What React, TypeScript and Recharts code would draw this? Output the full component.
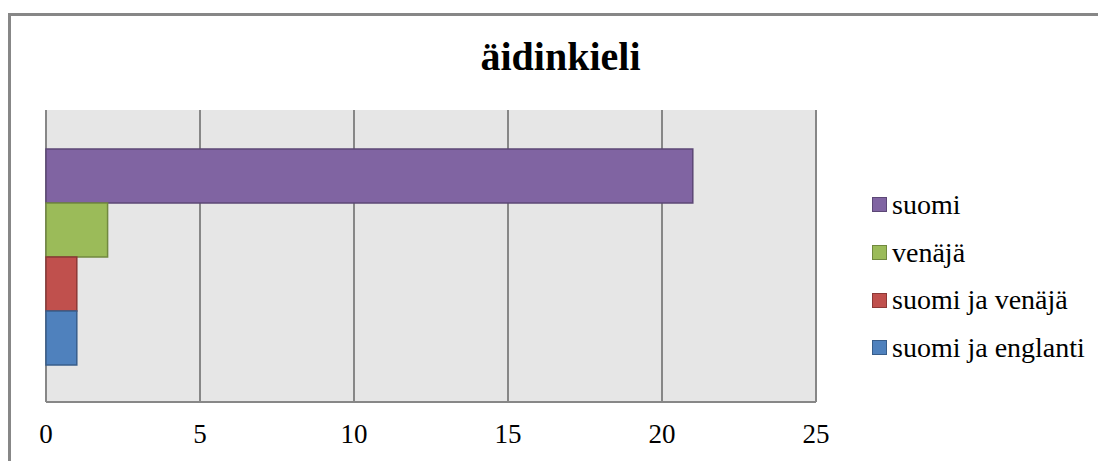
import { BarChart, Bar, XAxis, YAxis, CartesianGrid } from 'recharts';

const category = 'äidinkieli';
const seriesNames = ['suomi', 'venäjä', 'suomi ja venäjä', 'suomi ja englanti'];
const seriesValues = [21, 2, 1, 1];
const seriesFills = ['#8064A2', '#9BBB59', '#C0504D', '#4F81BD'];
const seriesStrokes = ['#5C4776', '#71893F', '#8C3836', '#385D8A'];
const xTicks = [0, 5, 10, 15, 20, 25];

const row: Record<string, string | number> = { name: category };
seriesNames.forEach((n, i) => {
  row[n] = seriesValues[i];
});
const data = [row];

const FONT = '"Liberation Serif", "Times New Roman", serif';
const GRID = '#878787';

export default function App() {
  return (
    <div style={{ position: 'relative', width: 1098, height: 453, fontFamily: FONT }}>
      <div
        style={{
          position: 'absolute',
          left: 0,
          top: 5,
          width: 1095,
          height: 445,
          borderTop: `3px solid ${GRID}`,
          borderLeft: `3px solid ${GRID}`,
        }}
      />
      <div
        style={{
          position: 'absolute',
          left: 0,
          top: 29,
          width: 1105,
          textAlign: 'center',
          fontSize: 40,
          lineHeight: '40px',
          fontWeight: 'bold',
          color: '#000',
        }}
      >
        {category}
      </div>
      <div style={{ position: 'absolute', left: 0, top: 0 }}>
        <BarChart
          width={1098}
          height={453}
          data={data}
          layout="vertical"
          margin={{ top: 102, right: 290, left: 38, bottom: 19 }}
          barCategoryGap={39}
          barGap={0}
        >
          <CartesianGrid horizontal={false} stroke={GRID} strokeWidth={2} fill="#E6E6E6" fillOpacity={1} />
          <XAxis
            type="number"
            domain={[0, 25]}
            ticks={xTicks}
            interval={0}
            height={40}
            tickSize={0}
            tickLine={false}
            tickMargin={22}
            axisLine={{ stroke: GRID, strokeWidth: 2 }}
            tick={{ fontSize: 27, fill: '#000', fontFamily: FONT }}
          />
          <YAxis type="category" dataKey="name" hide />
          {seriesNames.map((n, i) => (
            <Bar
              key={n}
              dataKey={n}
              fill={seriesFills[i]}
              stroke={seriesStrokes[i]}
              strokeWidth={1.5}
              isAnimationActive={false}
            />
          ))}
        </BarChart>
      </div>
      <div style={{ position: 'absolute', left: 864, top: 173 }}>
        {seriesNames.map((n, i) => (
          <div key={n} style={{ display: 'flex', alignItems: 'center', height: 47.7 }}>
            <span
              style={{
                display: 'inline-block',
                width: 13,
                height: 13,
                background: seriesFills[i],
                border: `1px solid ${seriesStrokes[i]}`,
                marginRight: 5,
              }}
            />
            <span style={{ fontSize: 28, whiteSpace: 'nowrap', color: '#000' }}>{n}</span>
          </div>
        ))}
      </div>
    </div>
  );
}
